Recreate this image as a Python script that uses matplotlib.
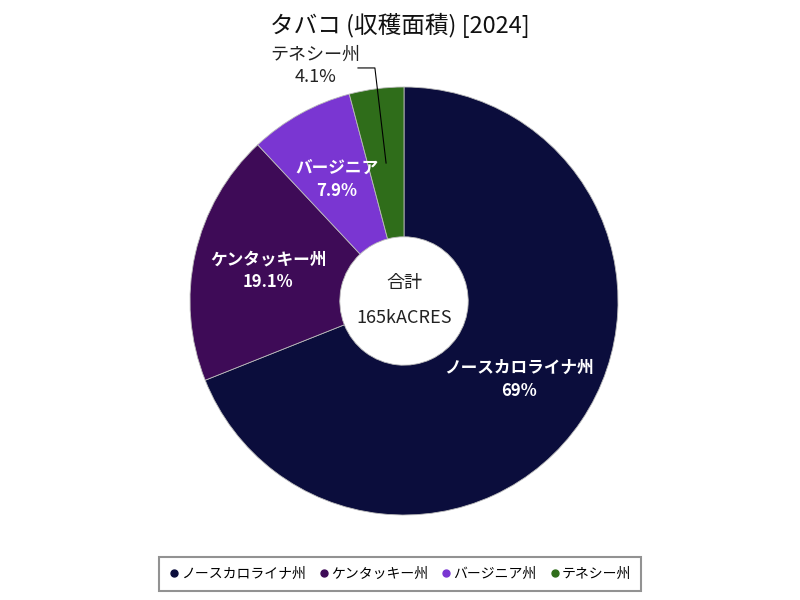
import numpy as np
import matplotlib
matplotlib.use('Agg')
import matplotlib.pyplot as plt

plt.rcParams['font.family'] = ['Noto Sans CJK JP', 'DejaVu Sans']

### data (k acres)
states = ['ノースカロライナ州', 'ケンタッキー州', 'バージニア', 'テネシー州']
legend_names = ['ノースカロライナ州', 'ケンタッキー州', 'バージニア州', 'テネシー州']
area = [114.0, 31.5, 13.0, 6.8]
colors = ['#0b0d3c', '#3e0b57', '#7a36d2', '#2f6d1a']
total_label = '165kACRES'

def fmt_pct(p):
    s = f'{p:.1f}'
    return s[:-2] if s.endswith('.0') else s

total = sum(area)
pcts = [v / total * 100 for v in area]

fig = plt.figure(figsize=(8, 6), dpi=100)
ax = fig.add_axes([190 / 800, 85 / 600, 428 / 800, 428 / 600])

wedges, _ = ax.pie(area, colors=colors, startangle=90, counterclock=False,
                   radius=1.0, wedgeprops=dict(width=0.7, edgecolor='#bbbbbb', linewidth=0.6))
ax.set_xlim(-1, 1)
ax.set_ylim(-1, 1)
ax.set_aspect('equal')
ax.axis('off')

# labels inside wedges (Tennessee gets an outside label)
r_lab = 0.65
for i, w in enumerate(wedges):
    ang = np.deg2rad((w.theta1 + w.theta2) / 2)
    x, y = r_lab * np.cos(ang), r_lab * np.sin(ang)
    if i < 3:
        ax.text(x, y, f'{states[i]}\n{fmt_pct(pcts[i])}%', ha='center', va='center',
                color='white', fontsize=12, fontweight='bold', linespacing=1.35)
    else:
        ax.plot([x, -0.136, -0.215], [y, 1.089, 1.089], color='black', lw=0.8, clip_on=False)
        ax.text(-0.415, 1.10, f'{states[i]}\n{fmt_pct(pcts[i])}%', ha='center', va='center',
                color='#222222', fontsize=13, linespacing=1.3)

# centre text
ax.text(0, 0.085, '合計', ha='center', va='center', fontsize=13, color='#222222')
ax.text(0, -0.08, total_label, ha='center', va='center', fontsize=13, color='#222222')

fig.text(0.5, 0.958, 'タバコ (収穫面積) [2024]', ha='center', va='center', fontsize=17, color='#111111')

handles = [plt.Line2D([], [], marker='o', ls='', color=c, markersize=5) for c in colors]
leg = fig.legend(handles, legend_names, loc='center', bbox_to_anchor=(0.5, 0.043), ncol=4,
                 frameon=True, fancybox=False, edgecolor='#777777', fontsize=10,
                 handletextpad=0.1, columnspacing=0.9, borderpad=0.7, handlelength=0.8)
leg.get_frame().set_linewidth(1.5)

fig.savefig('out.png', dpi=100)
